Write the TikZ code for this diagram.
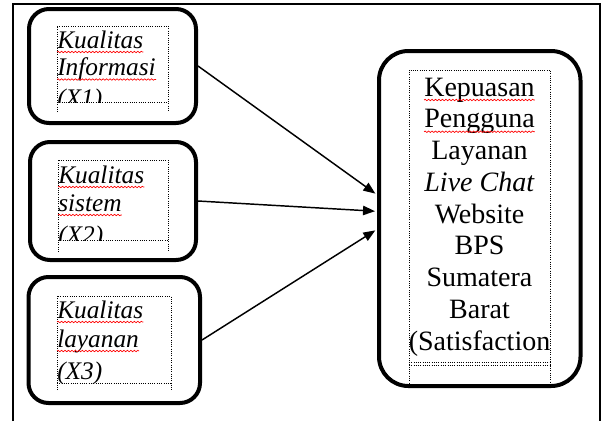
\documentclass[tikz,border=0pt]{standalone}
\usepackage{fontspec}
\setmainfont{Liberation Serif}
\usetikzlibrary{arrows.meta, positioning, fit, decorations.pathmorphing}

\begin{document}
\begin{tikzpicture}[x=0.75pt, y=-0.75pt,
  frame/.style={draw, line width=3pt, rounded corners=15pt, inner sep=0pt},
  txtbox/.style={densely dotted, line width=0.7pt},
  wavy/.style={draw=red, line width=0.5pt, decorate, decoration={snake, amplitude=0.55pt, segment length=2.6pt}},
  varline/.style={font=\fontsize{19}{22}\selectfont\itshape, inner sep=0pt, anchor=base west},
  outline/.style={font=\fontsize{21}{24}\selectfont, inner sep=0pt, anchor=base},
  link/.style={line width=1.1pt, shorten >=1.5pt, -{Triangle[length=9pt, width=7pt]}}]

\useasboundingbox (0,0) rectangle (605,421);

% page frame
\draw[line width=1.1pt] (13,421) -- (13,4) -- (600,4) -- (600,421);

% X1
\node (qi) [frame, fit={(29,9) (196,123)}] {};
\draw[txtbox] (57,112) -- (57,26) -- (168,26) -- (168,112);
\draw[txtbox] (57,102) -- (168,102);
\begin{scope}
\clip (50,26) rectangle (168,102);
\node (qi1) [varline] at (57,48) {Kualitas};
\node (qi2) [varline] at (57,75.5) {Informasi};
\node (qi3) [varline] at (57,106) {(X1)};
\draw[wavy] ([yshift=-3pt]qi1.base west) -- ([yshift=-3pt]qi1.base east);
\draw[wavy] ([yshift=-3pt]qi2.base west) -- ([yshift=-3pt]qi2.base east);
\end{scope}

% X2
\node (qs) [frame, fit={(30,142) (196,260)}] {};
\draw[txtbox] (58,252) -- (58,160) -- (168,160) -- (168,252);
\draw[txtbox] (58,240) -- (168,240);
\begin{scope}
\clip (50,160) rectangle (168,240);
\node (qs1) [varline] at (58,183) {Kualitas};
\node (qs2) [varline] at (58,211) {sistem};
\node (qs3) [varline] at (58,243) {(X2)};
\draw[wavy] ([yshift=-3pt]qs1.base west) -- ([yshift=-3pt]qs1.base east);
\draw[wavy] ([yshift=-3pt]qs2.base west) -- ([yshift=-3pt]qs2.base east);
\end{scope}

% X3
\node (ql) [frame, fit={(28.5,277) (200,403)}] {};
\draw[txtbox] (57,390) -- (57,296) -- (171,296) -- (171,390);
\draw[txtbox] (57,383) -- (171,383);
\begin{scope}
\clip (50,296) rectangle (171,383);
\node (ql1) [varline] at (57,318) {Kualitas};
\node (ql2) [varline] at (57,347) {layanan};
\node (ql3) [varline] at (57,379) {(X3)};
\draw[wavy] ([yshift=-3pt]ql1.base west) -- ([yshift=-3pt]ql1.base east);
\draw[wavy] ([yshift=-3pt]ql2.base west) -- ([yshift=-3pt]ql2.base east);
\end{scope}

% Y
\node (kps) [frame, rounded corners=22pt, fit={(379,51) (580.5,386)}] {};
\draw[txtbox] (409,388) -- (409,70) -- (550,70) -- (550,388);
\draw[txtbox] (409,362) -- (550,362);
\draw[txtbox] (409,365) -- (550,365);
\begin{scope}
\clip (404,70) rectangle (552,362);
\node (kps1) [outline] at (479.5,96) {Kepuasan};
\node (kps2) [outline] at (479.5,127.75) {Pengguna};
\node (kps3) [outline] at (479.5,159.5) {Layanan};
\node (kps4) [outline] at (479.5,191.25) {\textit{Live Chat}};
\node (kps5) [outline] at (479.5,223) {Website};
\node (kps6) [outline] at (479.5,254.75) {BPS};
\node (kps7) [outline] at (479.5,286.5) {Sumatera};
\node (kps8) [outline] at (479.5,318.25) {Barat};
\node (kps9) [outline] at (479.5,350) {(Satisfaction};
\draw[wavy] ([yshift=-3pt]kps1.base west) -- ([yshift=-3pt]kps1.base east);
\draw[wavy] ([yshift=-3pt]kps2.base west) -- ([yshift=-3pt]kps2.base east);
\end{scope}

% arrows
\draw[link] (qi.east) -- (kps.167.4);
\draw[link] (qs.east) -- (kps.176.6);
\draw[link] (ql.east) -- (kps.186.5);
\end{tikzpicture}
\end{document}
